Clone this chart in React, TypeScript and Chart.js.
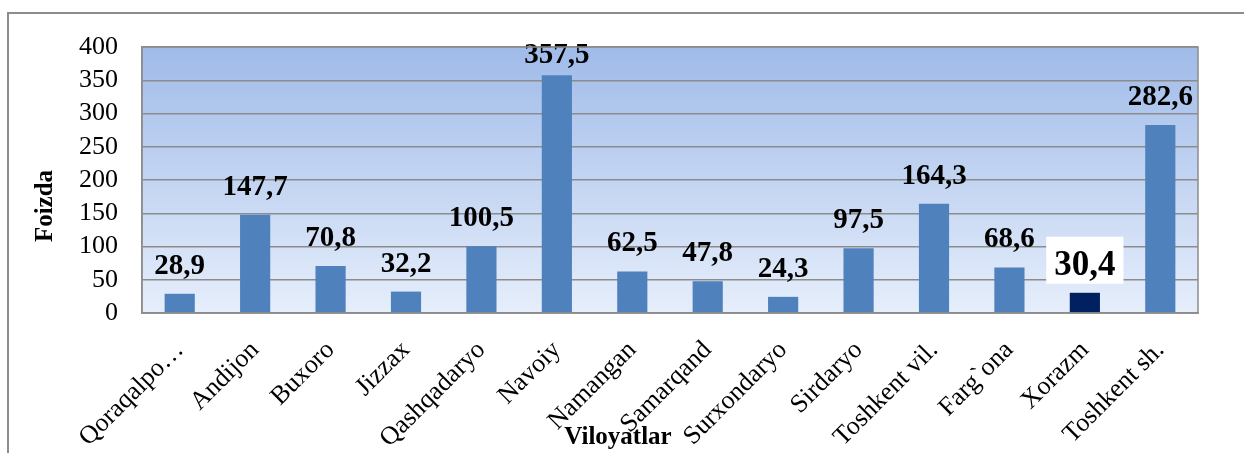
import React, { useEffect, useRef } from "react";
import { Chart, registerables } from "chart.js";

Chart.register(...registerables);

const categories = [
  "Qoraqalpo…",
  "Andijon",
  "Buxoro",
  "Jizzax",
  "Qashqadaryo",
  "Navoiy",
  "Namangan",
  "Samarqand",
  "Surxondaryo",
  "Sirdaryo",
  "Toshkent vil.",
  "Farg`ona",
  "Xorazm",
  "Toshkent sh.",
];
const values = [28.9, 147.7, 70.8, 32.2, 100.5, 357.5, 62.5, 47.8, 24.3, 97.5, 164.3, 68.6, 30.4, 282.6];
const highlightIndex = 12;
const yTitle = "Foizda";
const xTitle = "Viloyatlar";

const SERIF = '"Liberation Serif", "Times New Roman", serif';

const fmt = (v: number) => v.toFixed(1).replace(".", ",");

const bgPlugin = {
  id: "bgPlugin",
  beforeDraw(chart: any) {
    const { ctx, chartArea: a } = chart;
    const g = ctx.createLinearGradient(0, a.top, 0, a.bottom);
    g.addColorStop(0, "#a0bbe9");
    g.addColorStop(1, "#e6eefb");
    ctx.save();
    ctx.fillStyle = g;
    ctx.fillRect(a.left, a.top, a.right - a.left, a.bottom - a.top);
    ctx.restore();
  },
  afterDraw(chart: any) {
    const { ctx, chartArea: a } = chart;
    ctx.save();
    ctx.strokeStyle = "#8c8c8c";
    ctx.lineWidth = 1.5;
    ctx.strokeRect(a.left, a.top, a.right - a.left, a.bottom - a.top);
    ctx.fillStyle = "#000";
    ctx.font = `bold 25px ${SERIF}`;
    ctx.textAlign = "center";
    ctx.textBaseline = "alphabetic";
    ctx.fillText(xTitle, 618, 444);
    ctx.translate(52, 206);
    ctx.rotate(-Math.PI / 2);
    ctx.fillText(yTitle, 0, 0);
    ctx.restore();
  },
};

const labelPlugin = {
  id: "labelPlugin",
  afterDatasetsDraw(chart: any) {
    const { ctx, chartArea: a } = chart;
    const meta = chart.getDatasetMeta(0);
    ctx.save();
    ctx.textAlign = "center";
    ctx.textBaseline = "alphabetic";
    meta.data.forEach((bar: any, i: number) => {
      const text = fmt(values[i]);
      if (i === highlightIndex) {
        ctx.font = `bold 35px ${SERIF}`;
        const w = ctx.measureText(text).width;
        const base = bar.y - 18;
        ctx.fillStyle = "#ffffff";
        ctx.fillRect(bar.x - w / 2 - 8, base - 38, w + 16, 47);
        ctx.fillStyle = "#000";
        ctx.fillText(text, bar.x, base);
      } else {
        ctx.font = `bold 29px ${SERIF}`;
        const base = Math.max(bar.y - 20, a.top + 16);
        ctx.fillStyle = "#000";
        ctx.fillText(text, bar.x, base);
      }
    });
    ctx.restore();
  },
};

export default function App() {
  const ref = useRef<HTMLCanvasElement | null>(null);
  useEffect(() => {
    if (!ref.current) return;
    const chart = new Chart(ref.current, {
      type: "bar",
      data: {
        labels: categories,
        datasets: [
          {
            data: values,
            backgroundColor: values.map((_, i) => (i === highlightIndex ? "#002060" : "#4f81bd")),
            barPercentage: 0.4,
            categoryPercentage: 1,
          },
        ],
      },
      options: {
        responsive: false,
        animation: false,
        layout: { padding: { top: 47, right: 46, left: 0, bottom: 0 } },
        plugins: { legend: { display: false }, tooltip: { enabled: false } },
        scales: {
          x: {
            grid: { display: false, drawTicks: false },
            border: { display: true, color: "#8c8c8c", width: 1.5 },
            ticks: {
              color: "#000",
              font: { family: SERIF, size: 26 },
              minRotation: 45,
              maxRotation: 45,
              padding: 22,
              autoSkip: false,
            },
            afterFit(scale: any) {
              scale.height = 140;
            },
          },
          y: {
            min: 0,
            max: 400,
            grid: { color: "#8c8c8c", lineWidth: 1.5, drawTicks: false },
            border: { display: true, color: "#8c8c8c", width: 1.5 },
            ticks: {
              stepSize: 50,
              autoSkip: false,
              color: "#000",
              font: { family: SERIF, size: 26 },
              padding: 24,
            },
            afterFit(scale: any) {
              scale.width = 142;
            },
          },
        },
      },
      plugins: [bgPlugin, labelPlugin],
    });
    return () => chart.destroy();
  }, []);

  return (
    <div style={{ position: "fixed", left: 0, top: 0, width: 1244, height: 453, background: "#fff", overflow: "hidden" }}>
      <div
        style={{
          position: "absolute",
          left: 7,
          top: 12,
          width: 1260,
          height: 470,
          border: "2px solid #8c8c8c",
          boxSizing: "border-box",
        }}
      />
      <canvas
        ref={ref}
        width={1244}
        height={453}
        style={{ position: "absolute", left: 0, top: 0, width: 1244, height: 453 }}
      />
    </div>
  );
}
